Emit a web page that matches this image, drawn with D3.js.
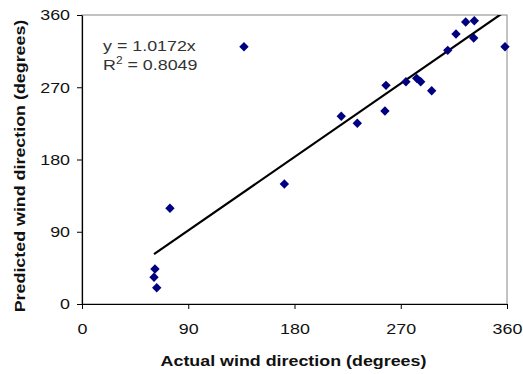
<!DOCTYPE html>
<html>
<head>
<meta charset="utf-8">
<script src="https://cdn.jsdelivr.net/npm/d3@7"></script>
<style>
  html, body { margin: 0; padding: 0; background: #fff; }
  svg { display: block; font-family: "Liberation Sans", Arial, sans-serif; }
</style>
</head>
<body>
<svg id="chart" width="523" height="374"></svg>
<script>
// Data (degrees)
const actual = [74.5, 61.8, 61.0, 63.3, 137.2, 171.4, 219.6, 233.2, 256.6, 257.5,
                274.4, 283.5, 286.9, 296.2, 309.8, 316.8, 325.0, 332.3, 331.8, 358.3];
const predicted = [119.2, 43.6, 33.3, 20.3, 320.5, 149.5, 233.8, 225.1, 240.4, 272.4,
                   276.9, 281.1, 276.9, 265.7, 316.0, 336.3, 351.3, 352.9, 331.3, 320.5];
const xTicks = [0, 90, 180, 270, 360];
const yTicks = [0, 90, 180, 270, 360];
const slope = 1.0172;
const r2 = 0.8049;
const xTitle = "Actual wind direction (degrees)";
const yTitle = "Predicted wind direction (degrees)";

const svg = d3.select("#chart");
const mLeft = 82, mRight = 507, mTop = 15, mBottom = 304;
const stretch = 1.19;

const x = d3.scaleLinear().domain([0, 360]).range([mLeft, mRight]);
const y = d3.scaleLinear().domain([0, 360]).range([mBottom, mTop]);

function widen(sel) {
  sel.each(function () {
    const w = this.getComputedTextLength();
    d3.select(this).attr("textLength", w * stretch).attr("lengthAdjust", "spacingAndGlyphs");
  });
}

// plot border (top/right gray)
svg.append("rect").attr("x", mLeft).attr("y", mTop)
  .attr("width", mRight - mLeft).attr("height", mBottom - mTop)
  .attr("fill", "none").attr("stroke", "#868686").attr("stroke-width", 1);

// clip for trendline
svg.append("clipPath").attr("id", "clip").append("rect")
  .attr("x", mLeft).attr("y", mTop).attr("width", mRight - mLeft).attr("height", mBottom - mTop);

// axes
const xAxis = svg.append("g").attr("transform", `translate(0,${mBottom})`)
  .call(d3.axisBottom(x).tickValues(xTicks).tickSize(5).tickPadding(14).tickSizeOuter(0));
const yAxis = svg.append("g").attr("transform", `translate(${mLeft},0)`)
  .call(d3.axisLeft(y).tickValues(yTicks).tickSize(5).tickPadding(7).tickSizeOuter(0));
[xAxis, yAxis].forEach(a => {
  a.select(".domain").attr("stroke", "#000").attr("stroke-width", 1.2);
  a.selectAll(".tick line").attr("stroke", "#000");
  a.selectAll(".tick text").attr("font-size", 15).attr("fill", "#111")
    .attr("font-family", "Liberation Sans, Arial, sans-serif").call(widen);
});

// trendline y = slope * x over data x-range
const xmin = d3.min(actual), xmax = d3.max(actual);
svg.append("line")
  .attr("clip-path", "url(#clip)")
  .attr("x1", x(xmin)).attr("y1", y(slope * xmin))
  .attr("x2", x(xmax)).attr("y2", y(slope * xmax))
  .attr("stroke", "#000").attr("stroke-width", 2.2);

// markers
const sym = d3.symbol().type(d3.symbolSquare).size(44);
svg.append("g").selectAll("path").data(actual.map((a, i) => [a, predicted[i]]))
  .join("path")
  .attr("d", sym)
  .attr("transform", d => `translate(${x(d[0])},${y(d[1])}) rotate(45)`)
  .attr("fill", "#000080");

// equation
const eq = svg.append("g").attr("font-size", 15).attr("fill", "#333");
eq.append("text").attr("x", 103).attr("y", 51).text(`y = ${slope.toFixed(4)}x`).call(widen);
const r2t = eq.append("text").attr("x", 103).attr("y", 70);
r2t.append("tspan").text("R");
r2t.append("tspan").attr("dy", -6).attr("font-size", 10).text("2");
r2t.append("tspan").attr("dy", 6).text(` = ${r2.toFixed(4)}`);
r2t.call(widen);

// axis titles
svg.append("text").attr("x", 293.5).attr("y", 366).attr("text-anchor", "middle")
  .attr("font-size", 15).attr("font-weight", "bold").attr("fill", "#111")
  .text(xTitle).call(widen);
svg.append("text").attr("transform", "translate(25,166) rotate(-90)").attr("text-anchor", "middle")
  .attr("font-size", 15).attr("font-weight", "bold").attr("fill", "#111")
  .text(yTitle).call(widen);
</script>
</body>
</html>
